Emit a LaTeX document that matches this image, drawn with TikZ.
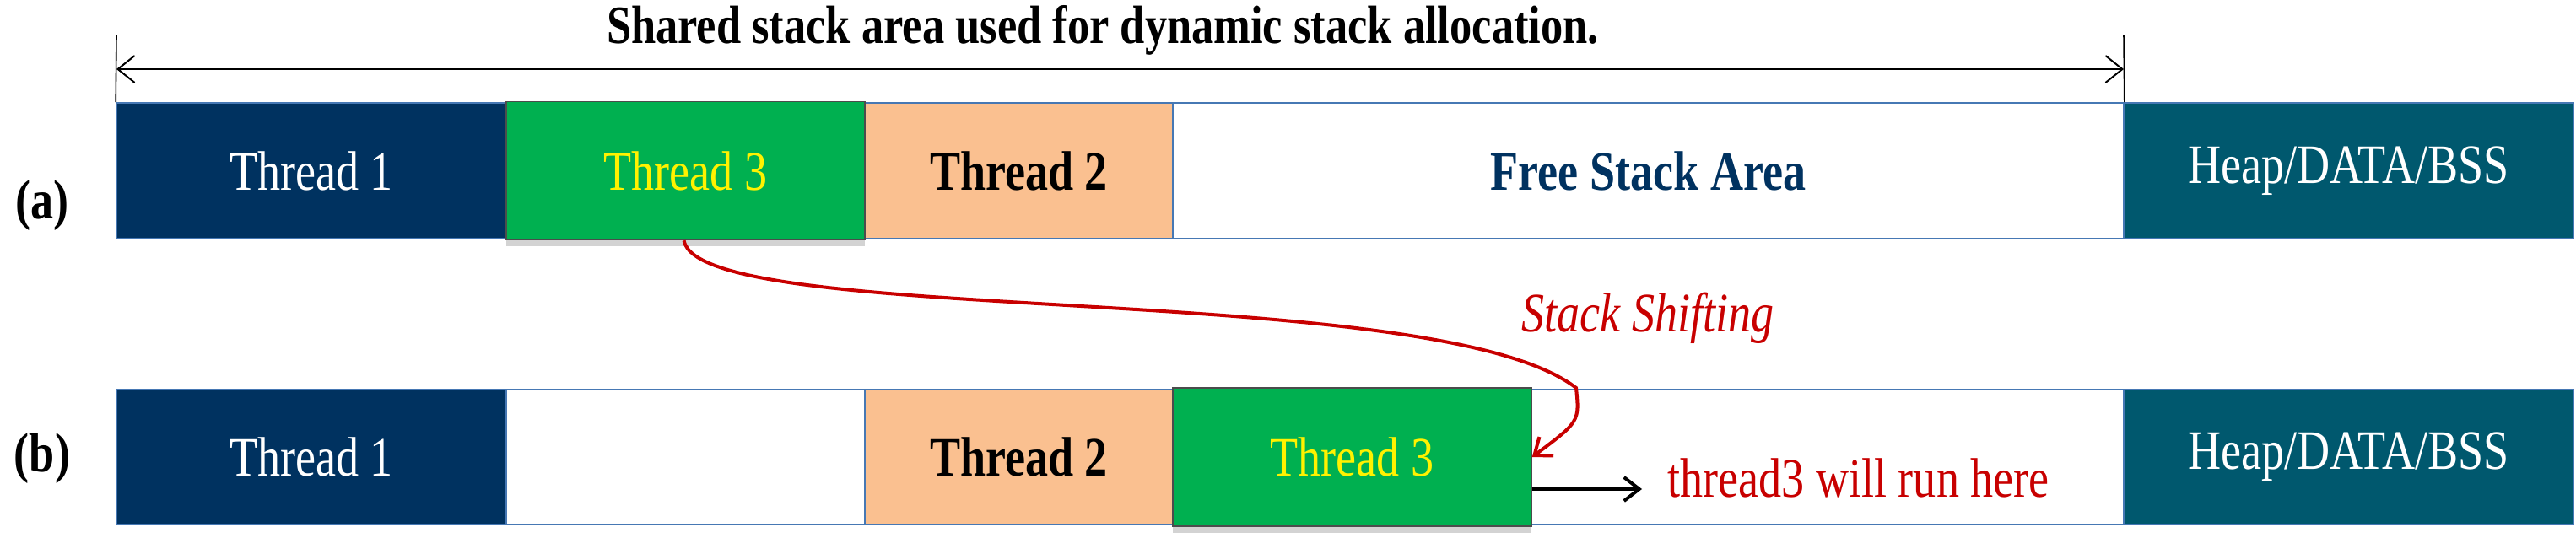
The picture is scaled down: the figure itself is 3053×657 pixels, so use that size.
\documentclass[tikz,border=0pt]{standalone}
\usepackage{fontspec}
\setmainfont{Liberation Serif}
\newfontfamily\cond{Liberation Serif}[FakeStretch=0.82]
\usetikzlibrary{arrows.meta,shadows}
\definecolor{navy}{RGB}{0,50,96}
\definecolor{tgreen}{RGB}{0,176,80}
\definecolor{peach}{RGB}{250,192,144}
\definecolor{heap}{RGB}{0,88,110}
\definecolor{bord}{RGB}{70,120,180}
\definecolor{dred}{RGB}{200,0,0}
\begin{document}
\begin{tikzpicture}[x=0.5pt,y=-0.5pt,
  box/.style={draw=bord,line width=0.8pt,minimum height=80.5pt,inner sep=0pt,font=\cond\fontsize{33}{36}\selectfont},
  thr/.style={box,fill=tgreen,draw=black!70,text=yellow,drop shadow={shadow xshift=0pt,shadow yshift=-4pt,opacity=0.35}},
  lab/.style={font=\cond\bfseries\fontsize{33}{36}\selectfont}]
\useasboundingbox (0,0) rectangle (3053,657);
% row a
\node[box,fill=navy,text=white,minimum width=231pt] (a1) at (369,202.5) {Thread 1};
\node[box,fill=peach,font=\cond\bfseries\fontsize{33}{36}\selectfont,minimum width=182.5pt] (a2) at (1207.5,202.5) {Thread 2};
\node[box,fill=white,text=navy,font=\cond\bfseries\fontsize{33}{36}\selectfont,minimum width=563.5pt] (af) at (1953.5,202.5) {Free Stack Area};
\node[box,fill=heap,text=white,minimum width=266.5pt] (ah) at (2783.5,202.5) {Heap/DATA/BSS};
\node[thr,minimum width=212.5pt,minimum height=82pt] (a3) at (812.5,202.5) {Thread 3};
% row b
\node[box,fill=navy,text=white,minimum width=231pt] (b1) at (369,542) {Thread 1};
\node[box,fill=white,minimum width=212.5pt] (be) at (812.5,542) {};
\node[box,fill=peach,font=\cond\bfseries\fontsize{33}{36}\selectfont,minimum width=182.5pt] (b2) at (1207.5,542) {Thread 2};
\node[box,fill=white,minimum width=351pt] (bf) at (2166,542) {};
\node[box,fill=heap,text=white,minimum width=266.5pt] (bh) at (2783.5,542) {Heap/DATA/BSS};
\node[thr,minimum width=212.5pt,minimum height=82pt] (b3) at (1602.5,542) {Thread 3};
% labels
\node[lab] (la) at (50,244) {(a)};
\node[lab] (lb) at (50,544) {(b)};
% top dimension
\coordinate (L) at (138,82); \coordinate (R) at (2517,82);
\coordinate (Lt) at (138,42); \coordinate (Rt) at (2517,42);
\draw[line width=0.8pt] (Lt) -- (a1.north west);
\draw[line width=0.8pt] (Rt) -- (af.north east);
\draw[line width=1pt,{Straight Barb[length=10pt,width=16pt]}-{Straight Barb[length=10pt,width=16pt]}] (L) -- (R);
\node[font=\cond\bfseries\fontsize{32}{36}\selectfont] (title) at (1307,36) {Shared stack area used for dynamic stack allocation.};
% stack shifting
\draw[dred,line width=2pt,-{Straight Barb[length=9pt,width=14pt]}] ([xshift=-1pt]a3.south) .. controls (830,390) and (1700,330) .. (1868,460) .. controls (1872,500) .. (b3.east);
\node[text=dred,font=\cond\itshape\fontsize{33}{36}\selectfont] (ss) at (1953,377) {Stack Shifting};
\coordinate (t3o) at ([yshift=-19pt]b3.east);
\node[anchor=west,text=dred,font=\cond\fontsize{33}{36}\selectfont,inner sep=2pt] (run) at (1972,567) {thread3 will run here};
\draw[line width=2pt,-{Straight Barb[length=9pt,width=14pt]}] (t3o) -- (t3o -| 1946,0);
\end{tikzpicture}
\end{document}
